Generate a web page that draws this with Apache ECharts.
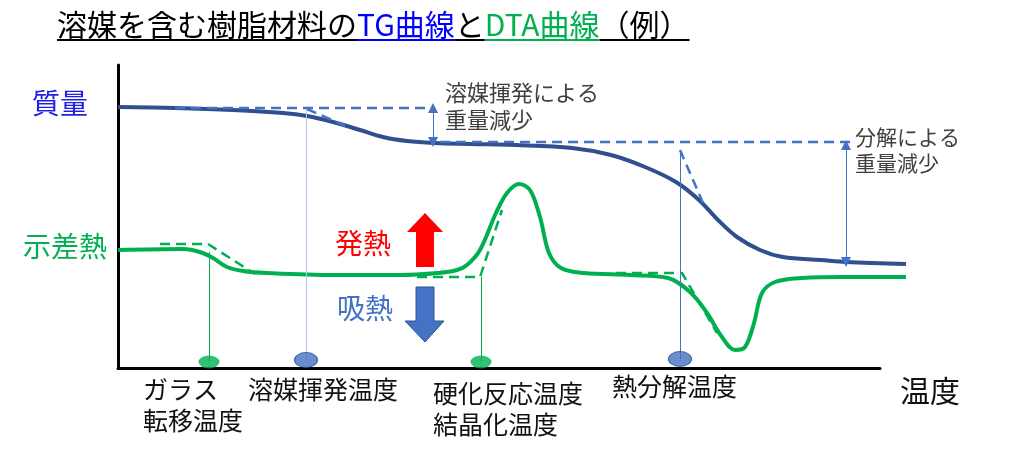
<!DOCTYPE html>
<html><head><meta charset="utf-8">
<script src="https://cdn.jsdelivr.net/npm/echarts@6/dist/echarts.min.js"></script>
<style>html,body{margin:0;padding:0;background:#fff}#c{width:1024px;height:460px}</style>
</head><body><div id="c"></div>
<script>
// ---- data (x: temperature, y: signal; arbitrary schematic units) ----
const tgCurve = [[0,261],[57,260],[115,258],[165,255],[189,252],[215,246],[242,238],[265,231],[289,227],[316,225],[352,224],[397,223],[454,220],[493,213],[527,201],[558,186],[581,168],[600,148],[619,131],[642,118],[665,111],[703,108],[728,106],[788,104]];
const dtaCurve = [[0,118],[65,119],[82,116],[95,110],[109,101],[125,97],[149,95],[215,93],[282,93],[320,95],[339,98],[349,103],[362,118],[378,155],[389,175],[401,184],[412,178],[422,151],[431,115],[443,100],[466,95],[512,93],[550,90],[573,75],[589,55],[604,31],[617,18],[627,21],[636,45],[644,75],[657,86],[684,90],[726,91],[788,91]];
const tgBaseline1 = [[57,260],[314,260]];
const tgTangent1 = [[189,259],[232,240]];
const tgBaseline2 = [[322,226],[734,226]];
const tgTangent2 = [[562,218],[585,165]];
const dtaGuide1 = [[42,124],[90,124],[137,94]];
const dtaGuide2 = [[299,91],[362,91],[384,158]];
const dtaGuide3 = [[498,95],[564,95],[599,35]];
const eventTemps = [91,188,363,562];
const eventFrom = [116,258,91,218];
const eventMarkY = [6,8,6,9];
const eventKinds = ['dta','tg','dta','tg'];
const eventNames = [['ガラス','転移温度'],['溶媒揮発温度'],['硬化反応温度','結晶化温度'],['熱分解温度']];
const solventLoss = [315,260,226];   // x, from, to
const decompLoss = [728,223,106];
const yLabels = ['質量','示差熱'];
const yLabelValues = [265,122];
const titleParts = ['溶媒を含む樹脂材料の','TG曲線','と','DTA曲線','（例）'];

// ---- styles ----
const FF = '"Noto Sans CJK JP", "Noto Sans CJK SC", sans-serif';
const TG = '#2F4F8F', TGD = '#4472C4', DTA = '#00B050';
const titleColors = ['#000','#0000FF','#000','#00B050','#000'];
const eventLineColors = ['#00B050','#B4C7E7','#00B050','#4472C4'];

const chart = echarts.init(document.getElementById('c'));

// title with coloured underlines
const cv = document.createElement('canvas').getContext('2d');
cv.font = '30px ' + FF;
let tx = 57; const graphics = [];
titleParts.forEach((p,i)=>{
  const w = cv.measureText(p).width;
  graphics.push({type:'text', x:tx, y:25, style:{text:p, fill:titleColors[i], fontSize:30, fontFamily:FF, verticalAlign:'middle'}});
  graphics.push({type:'line', shape:{x1:tx,y1:40,x2:tx+w,y2:40}, style:{stroke:titleColors[i], lineWidth:2}});
  tx += w;
});
function txt(t,x,y,size,color){graphics.push({type:'text', x:x, y:y, style:{text:t, fill:color, fontSize:size, fontFamily:FF, verticalAlign:'middle'}});}
// event labels under axis
const labelPos = [[143,389],[248,389],[433,393],[612,386]];
eventNames.forEach((lines,i)=>lines.forEach((l,j)=>txt(l,labelPos[i][0],labelPos[i][1]+j*31,25,'#111')));
// weight-loss notes
txt('溶媒揮発による',445,93,22,'#404040'); txt('重量減少',445,120,22,'#404040');
txt('分解による',855,137,21,'#404040'); txt('重量減少',855,163,21,'#404040');
// exo / endo
txt('発熱',335,243,28,'#FF0000'); txt('吸熱',337,308,28,'#4472C4');
graphics.push({type:'polygon', shape:{points:[[425,213],[443,232],[434,232],[434,267],[416,267],[416,232],[407,232]]}, style:{fill:'#FF0000'}});
graphics.push({type:'polygon', shape:{points:[[416,287],[434,287],[434,321],[444,321],[425,342],[405,321],[416,321]]}, style:{fill:'#4472C4', stroke:'#2F528F', lineWidth:1}});

function dashed(data,color){return {type:'line', xAxisIndex:1, yAxisIndex:1, data:data, symbol:'none', z:4, lineStyle:{color:color, width:2.5, type:[10,6]}};}

const hiddenAxis = {show:false};
const option = {
  animation:false,
  textStyle:{fontFamily:FF},
  grid:[{left:118, right:144, top:65, bottom:92},   // visible axes
        {left:118, right:118, top:65, bottom:92}],  // same scale, plot reaches past axis end
  xAxis:[{gridIndex:0, type:'value', min:0, max:762, axisLine:{show:true, lineStyle:{color:'#000', width:3}}, axisTick:{show:false}, axisLabel:{show:false}, splitLine:{show:false},
           name:'温度', nameLocation:'end', nameGap:20, nameTextStyle:{fontSize:30, color:'#111', fontFamily:FF, verticalAlign:'top', padding:[8,0,0,0]}},
         Object.assign({gridIndex:1, type:'value', min:0, max:788}, hiddenAxis)],
  yAxis:[{gridIndex:0, type:'value', min:0, max:303, axisLine:{show:true, lineStyle:{color:'#000', width:3}}, axisTick:{show:false}, splitLine:{show:false},
           axisLabel:{show:true, customValues:yLabelValues, margin:11,
             formatter:(v)=> v===yLabelValues[0] ? '{m|'+yLabels[0]+'}' : '{d|'+yLabels[1]+'}',
             rich:{m:{color:'#1F1FE6', fontSize:28, fontFamily:FF, padding:[0,19,0,0]}, d:{color:DTA, fontSize:28, fontFamily:FF}}}},
         Object.assign({gridIndex:1, type:'value', min:0, max:303}, hiddenAxis)],
  graphic:graphics,
  series:[
    {type:'line', xAxisIndex:1, yAxisIndex:1, data:[], symbol:'none', z:1,
      markLine:{silent:true, symbol:['none','none'], animation:false, label:{show:false},
        data: eventTemps.map((x,i)=>[{coord:[x,eventFrom[i]], lineStyle:{color:eventLineColors[i], width:1, type:'solid'}},{coord:[x,eventMarkY[i]]}])}},
    {type:'line', xAxisIndex:1, yAxisIndex:1, data:tgCurve, symbol:'none', smooth:0.35, z:3, lineStyle:{color:TG, width:4}},
    {type:'line', xAxisIndex:1, yAxisIndex:1, data:dtaCurve, symbol:'none', smooth:0.35, z:3, lineStyle:{color:DTA, width:4}},
    dashed(tgBaseline1,TGD), dashed(tgTangent1,TGD), dashed(tgBaseline2,TGD), dashed(tgTangent2,TGD),
    dashed(dtaGuide1,DTA), dashed(dtaGuide2,DTA), dashed(dtaGuide3,DTA),
    {type:'line', xAxisIndex:1, yAxisIndex:1, data:[], symbol:'none', z:5,
      markLine:{silent:true, symbol:['triangle','triangle'], symbolSize:[10,10], animation:false, label:{show:false},
        lineStyle:{color:'#4472C4', width:1, type:'solid'},
        data:[[{coord:[solventLoss[0],solventLoss[1]]},{coord:[solventLoss[0],solventLoss[2]]}],
              [{coord:[decompLoss[0],decompLoss[1]]},{coord:[decompLoss[0],decompLoss[2]]}]]}},
    {type:'scatter', xAxisIndex:1, yAxisIndex:1, z:6,
      data: eventTemps.map((x,i)=>({value:[x,eventMarkY[i]],
        symbolSize: eventKinds[i]==='dta' ? [21,13] : [23,15],
        itemStyle: eventKinds[i]==='dta' ? {color:DTA} : {color:'#4472C4', borderColor:'#2F528F', borderWidth:1}}))}
  ]
};
chart.setOption(option);
</script></body></html>
